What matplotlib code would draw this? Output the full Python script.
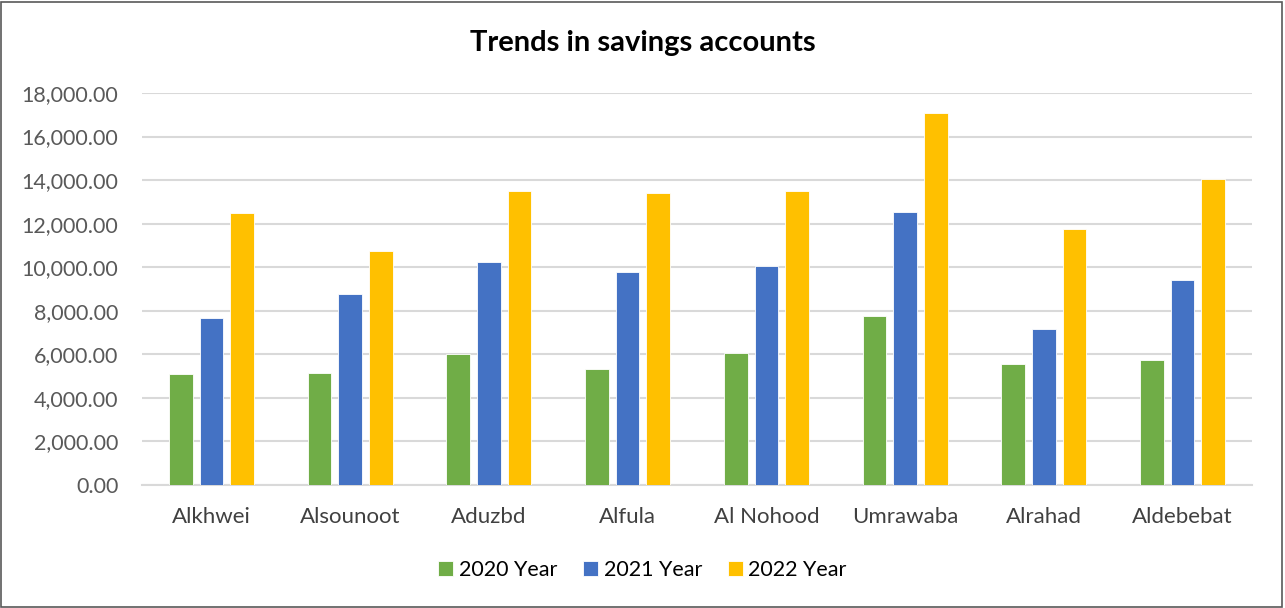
import numpy as np
import matplotlib.pyplot as plt
from matplotlib.patches import Rectangle
from matplotlib.ticker import FuncFormatter

plt.rcParams['font.family'] = ['Lato', 'DejaVu Sans']

branches = ['Alkhwei', 'Alsounoot', 'Aduzbd', 'Alfula', 'Al Nohood',
            'Umrawaba', 'Alrahad', 'Aldebebat']
year_2020 = [5100, 5130, 6030, 5330, 6060, 7740, 5570, 5740]
year_2021 = [7680, 8760, 10220, 9760, 10040, 12530, 7160, 9430]
year_2022 = [12480, 10760, 13500, 13390, 13500, 17070, 11770, 14030]
series_labels = ['2020 Year', '2021 Year', '2022 Year']
colors = ['#70AD47', '#4472C4', '#FFC000']

fig = plt.figure(figsize=(12.85, 6.08), dpi=100)
ax = fig.add_axes([142 / 1285, 123 / 608, 1110 / 1285, 392 / 608])

x = np.arange(len(branches))
width = 0.171
step = 0.221
for i, (vals, lab, col) in enumerate(zip([year_2020, year_2021, year_2022], series_labels, colors)):
    ax.bar(x + (i - 1) * step, vals, width, color=col, label=lab,
           edgecolor='white', linewidth=0.6, zorder=3)

ax.set_xlim(-0.5, len(branches) - 0.5)
ax.set_ylim(0, 18000)
ax.set_yticks(np.arange(0, 18001, 2000))
ax.yaxis.set_major_formatter(FuncFormatter(lambda v, p: f'{v:,.2f}'))
ax.set_xticks(x)
ax.set_xticklabels(branches)

ax.grid(axis='y', color='#d9d9d9', linewidth=1.5, zorder=0)
for s in ['top', 'right', 'left']:
    ax.spines[s].set_visible(False)
ax.spines['bottom'].set_color('#d9d9d9')
ax.spines['bottom'].set_linewidth(1.5)
ax.tick_params(axis='y', length=0, pad=17, labelsize=15.5, labelcolor='#595959')
ax.tick_params(axis='x', length=0, pad=16, labelsize=16, labelcolor='#404040')

fig.text(0.5, 1 - 43 / 608, 'Trends in savings accounts', ha='center', va='center',
         fontsize=21, fontweight='bold', color='black')

fig.legend(loc='center', bbox_to_anchor=(0.5, 1 - 570 / 608), ncol=3, frameon=False,
           fontsize=15.5, handlelength=0.7, handleheight=0.7, handletextpad=0.25,
           columnspacing=1.2)

# outer chart border
fig.patches.append(Rectangle((0.001, 0.002), 0.997, 0.995, transform=fig.transFigure,
                             fill=False, edgecolor='#595959', linewidth=1.2))

fig.savefig('out.png', dpi=100)
